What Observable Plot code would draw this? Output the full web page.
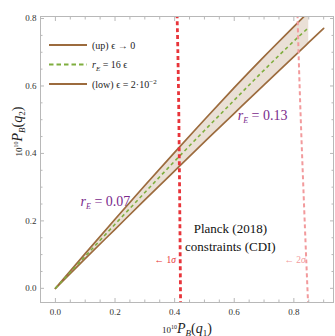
<!DOCTYPE html>
<html><head><meta charset="utf-8">
<script src="https://cdn.jsdelivr.net/npm/d3@7"></script>
<script src="https://cdn.jsdelivr.net/npm/@observablehq/plot@0.6"></script>
<style>
body{margin:0;background:#fff;}
#wrap{position:relative;width:335px;height:336px;}
#legend{position:absolute;left:0;top:0;pointer-events:none;}
svg text, svg tspan{font-family:'Liberation Serif','Times New Roman',serif;}
</style></head><body><div id="wrap"></div>
<script>
// ---- data ----
const gridX = [0, 0.1, 0.2, 0.3, 0.4, 0.5, 0.6, 0.7, 0.8, 0.85, 0.9];
const upY   = [0, 0.103, 0.205, 0.305, 0.403, 0.500, 0.595, 0.687, 0.776, 0.820, 0.863];
const lowY  = [0, 0.088, 0.175, 0.262, 0.348, 0.434, 0.519, 0.603, 0.687, 0.729, 0.771];
const midY  = [0, 0.095, 0.190, 0.284, 0.377, 0.468, 0.558, 0.647, 0.733, 0.773, null];
const bandMaxX = 0.85;
const sig1X = [0.420, 0.417, 0.413, 0.408];
const sig1Y = [-0.05, 0.26, 0.586, 0.82];
const sig2X = [0.848, 0.839, 0.822, 0.812];
const sig2Y = [-0.05, 0.14, 0.53, 0.82];
const xMajor = [0, 0.2, 0.4, 0.6, 0.8];
const xMinor = [0.05, 0.1, 0.15, 0.25, 0.3, 0.35, 0.45, 0.5, 0.55, 0.65, 0.7, 0.75, 0.85, 0.9];
const yMajor = [0, 0.2, 0.4, 0.6, 0.8];
const yMinor = [0.05, 0.1, 0.15, 0.25, 0.3, 0.35, 0.45, 0.5, 0.55, 0.65, 0.7, 0.75];
const rLabels = ["rE = 0.07", "rE = 0.13"];
const rLabelX = [0.168, 0.695];
const rLabelY = [0.257, 0.512];
const planckLines = ["Planck (2018)", "constraints (CDI)"];
const planckX = [0.587, 0.587];
const planckY = [0.175, 0.124];
const sigmaLabels = ["← 1σ", "← 2σ"];
const sigmaLabelX = [0.404, 0.840];
const sigmaLabelY = [0.083, 0.083];
const legendLabels = ["(up) ϵ → 0", "rE = 16 ϵ", "(low) ϵ = 2·10-2"];

// ---- build tables ----
const curves = gridX.map((x, i) => ({x, up: upY[i], low: lowY[i], mid: midY[i]}));
const band = curves.filter(d => d.x <= bandMaxX);
const midLine = curves.filter(d => d.mid != null);
const sig1 = sig1X.map((x, i) => ({x, y: sig1Y[i]}));
const sig2 = sig2X.map((x, i) => ({x, y: sig2Y[i]}));
const rTab = rLabels.map((t, i) => ({t, x: rLabelX[i], y: rLabelY[i]}));
const pTab = planckLines.map((t, i) => ({t, x: planckX[i], y: planckY[i]}));
const sTab = sigmaLabels.map((t, i) => ({t, x: sigmaLabelX[i], y: sigmaLabelY[i]}));

const brown = "#9c6b3d", green = "#7fae3e", red = "#e8343a", pink = "#f29a9c";
const frameCol = "#b8b8b8";
const serif = "'Liberation Serif', 'Times New Roman', serif";

const tickAxes = [];
for (const [vals, len] of [[xMajor, 4], [xMinor, 2.5]]) {
  tickAxes.push(Plot.axisX(vals, {anchor: "bottom", tickSize: len, dy: -len, fill: "none", stroke: frameCol, label: null}));
  tickAxes.push(Plot.axisX(vals, {anchor: "top", tickSize: len, dy: len, fill: "none", stroke: frameCol, label: null}));
}
for (const [vals, len] of [[yMajor, 4], [yMinor, 2.5]]) {
  tickAxes.push(Plot.axisY(vals, {anchor: "left", tickSize: len, dx: len, fill: "none", stroke: frameCol, label: null}));
  tickAxes.push(Plot.axisY(vals, {anchor: "right", tickSize: len, dx: -len, fill: "none", stroke: frameCol, label: null}));
}

const chart = Plot.plot({
  width: 335, height: 336,
  marginLeft: 40, marginRight: 2, marginTop: 16, marginBottom: 34,
  style: {fontFamily: serif, fontSize: "9px", background: "#fff", color: "#333"},
  x: {domain: [-0.05, 0.933]},
  y: {domain: [-0.042, 0.806]},
  marks: [
    Plot.areaY(band, {x: "x", y1: "low", y2: "up", fill: "#eae0d6", curve: "natural", clip: true}),
    Plot.line(curves, {x: "x", y: "up", stroke: brown, strokeWidth: 1.7, curve: "natural", clip: true}),
    Plot.line(curves, {x: "x", y: "low", stroke: brown, strokeWidth: 1.7, curve: "natural", clip: true}),
    Plot.line(midLine, {x: "x", y: "mid", stroke: green, strokeWidth: 1.6, strokeDasharray: "3.5,3", strokeLinecap: "butt", curve: "natural", clip: true}),
    Plot.line(sig2, {x: "x", y: "y", stroke: pink, strokeWidth: 2, strokeDasharray: "4,3", strokeLinecap: "butt", curve: "natural", clip: true}),
    Plot.line(sig1, {x: "x", y: "y", stroke: red, strokeWidth: 2.8, strokeDasharray: "4,3", strokeLinecap: "butt", curve: "natural", clip: true}),
    Plot.frame({stroke: frameCol}),
    ...tickAxes,
    Plot.axisX(xMajor, {anchor: "bottom", tickSize: 0, tickPadding: 6, tickFormat: d3.format(".1f"), label: null, fill: "#333", fontFamily: serif}),
    Plot.axisY(yMajor, {anchor: "left", tickSize: 0, tickPadding: 4, tickFormat: d3.format(".1f"), label: null, fill: "#333", fontFamily: serif}),
    Plot.text(rTab, {x: "x", y: "y", text: "t", fill: "#7a2a8c", fontSize: 14, fontFamily: serif}),
    Plot.text(pTab, {x: "x", y: "y", text: "t", fill: "#111", fontSize: 13, fontFamily: serif}),
    Plot.text(sTab.slice(0, 1), {x: "x", y: "y", text: "t", fill: red, fontSize: 9.5, textAnchor: "end", fontFamily: serif}),
    Plot.text(sTab.slice(1), {x: "x", y: "y", text: "t", fill: pink, fontSize: 9.5, textAnchor: "end", fontFamily: serif}),
    Plot.text(["YLABEL"], {frameAnchor: "left", rotate: -90, dx: -23, dy: -3, fill: "#222", fontSize: 14, fontFamily: serif}),
    Plot.text(["XLABEL"], {frameAnchor: "bottom", dy: 30, fill: "#222", fontSize: 14, fontFamily: serif})
  ]
});

function axisLab(sub) {
  return `<tspan font-size="9">10</tspan><tspan font-size="6" dy="-4">10</tspan>` +
    `<tspan font-style="italic" font-size="14" dy="4">P</tspan><tspan font-style="italic" font-size="9" dy="3">B</tspan>` +
    `<tspan font-size="14" dy="-3">(</tspan><tspan font-style="italic" font-size="14">q</tspan>` +
    `<tspan font-size="9" dy="3">${sub}</tspan><tspan font-size="14" dy="-3">)</tspan>`;
}
const rich = {
  "YLABEL": axisLab("2"),
  "XLABEL": axisLab("1"),
  "rE = 0.07": `<tspan font-style="italic">r</tspan><tspan font-style="italic" font-size="8" dy="3">E</tspan><tspan dy="-3"> = 0.07</tspan>`,
  "rE = 0.13": `<tspan font-style="italic">r</tspan><tspan font-style="italic" font-size="8" dy="3">E</tspan><tspan dy="-3"> = 0.13</tspan>`,
  "← 1σ": `← 1<tspan font-style="italic">σ</tspan>`,
  "← 2σ": `← 2<tspan font-style="italic">σ</tspan>`
};
chart.querySelectorAll("text").forEach(t => {
  const k = t.textContent;
  if (rich[k]) t.innerHTML = rich[k];
});

const wrap = document.getElementById("wrap");
wrap.appendChild(chart);

// legend overlay
const ns = "http://www.w3.org/2000/svg";
const leg = document.createElementNS(ns, "svg");
leg.setAttribute("id", "legend");
leg.setAttribute("width", 335);
leg.setAttribute("height", 336);
const legStyles = [
  {stroke: brown, dash: null},
  {stroke: green, dash: "4.5,3"},
  {stroke: brown, dash: null}
];
const legRich = [
  `(up) ϵ → 0`,
  `<tspan font-style="italic">r</tspan><tspan font-style="italic" font-size="7" dy="2.5">E</tspan><tspan dy="-2.5"> = 16 ϵ</tspan>`,
  `(low) ϵ = 2·10<tspan font-size="7" dy="-4">−2</tspan>`
];
legendLabels.forEach((lab, i) => {
  const y = 45 + i * 19.5;
  const ln = document.createElementNS(ns, "line");
  ln.setAttribute("x1", 49); ln.setAttribute("x2", 87);
  ln.setAttribute("y1", y); ln.setAttribute("y2", y);
  ln.setAttribute("stroke", legStyles[i].stroke);
  ln.setAttribute("stroke-width", 2);
  if (legStyles[i].dash) ln.setAttribute("stroke-dasharray", legStyles[i].dash);
  leg.appendChild(ln);
  const tx = document.createElementNS(ns, "text");
  tx.setAttribute("x", 92); tx.setAttribute("y", y + 3.5);
  tx.setAttribute("font-family", serif);
  tx.setAttribute("font-size", 10);
  tx.setAttribute("fill", "#222");
  tx.innerHTML = legRich[i];
  leg.appendChild(tx);
});
wrap.appendChild(leg);
</script>
</body></html>
